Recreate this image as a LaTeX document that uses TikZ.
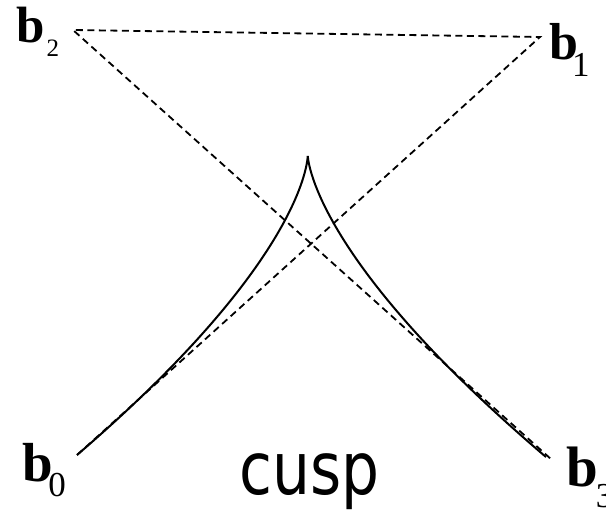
\documentclass[tikz,border=0pt]{standalone}
\usepackage{fontspec}
\setmainfont{Liberation Serif}
\newfontfamily\cuspfont{DejaVu Sans}
\newcommand\blab[5]{{\fontsize{#1}{#1}\selectfont\bfseries b}\kern#3pt\raisebox{-#4pt}{\fontsize{#2}{#2}\selectfont #5}}
\begin{document}
\begin{tikzpicture}[x=1pt,y=-1pt,
  ctrl/.style={line width=1.8pt,dash pattern=on 7pt off 4.5pt},
  curve/.style={line width=2pt},
  lab/.style={inner sep=0pt,anchor=base west}]
\useasboundingbox (0,0) rectangle (606,510);
\coordinate (b0) at (77,455);
\coordinate (b1) at (540,37);
\coordinate (b2) at (73,30);
\coordinate (b3) at (552,460);
\coordinate (e) at (546,457);
\coordinate (c1) at (540,57);
\coordinate (c2) at (73,55);
\draw[ctrl] (b0) -- (b1) -- (b2) -- (b3);
\draw[curve] (b0) .. controls (c1) and (c2) .. (e);
\node[lab] (lb2) at (16,43) {\blab{51}{25}{2}{14}{2}};
\node[lab] (lb1) at (549,60) {\blab{52}{35}{-6}{17}{1}};
\node[lab] (lb0) at (22,482) {\blab{55}{35}{-4.5}{15}{0}};
\node[lab] (lb3) at (566,487) {\blab{57}{35}{-2}{21}{3}};
\node[lab] (cusp) at (239,495) {\scalebox{0.82}[1]{\cuspfont\fontsize{73}{73}\selectfont cusp}};
\end{tikzpicture}
\end{document}
